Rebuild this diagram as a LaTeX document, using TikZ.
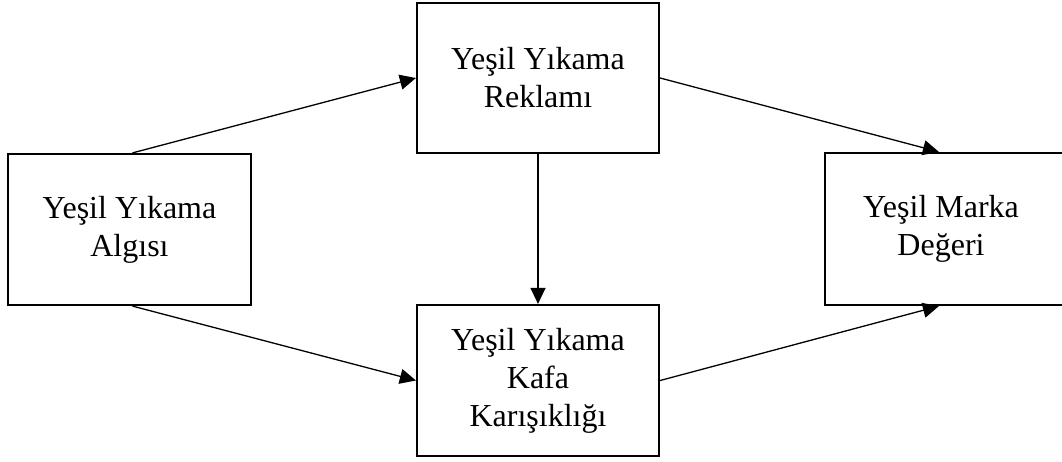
\documentclass[tikz,border=0pt]{standalone}
\usepackage{fontspec}
\setmainfont{Liberation Serif}
\usetikzlibrary{arrows.meta,calc}
\begin{document}
\begin{tikzpicture}[x=1pt,y=-1pt,
  box/.style={draw,line width=2.2pt,rectangle,inner sep=0pt,align=center,
    font=\fontsize{32}{38}\selectfont},
  conn/.style={line width=1.3pt,-{Triangle[length=16pt,width=15pt]}}]
\useasboundingbox (0,0) rectangle (1062,462);
\clip (0,0) rectangle (1062,462);
\node[box,minimum width=243pt,minimum height=151pt] (L) at (129.5,229.5) {Yeşil Yıkama\\Algısı};
\node[box,minimum width=242pt,minimum height=150pt] (T) at (538,78) {Yeşil Yıkama\\Reklamı};
\node[box,minimum width=242pt,minimum height=151pt] (B) at (538,380.5) {Yeşil Yıkama\\Kafa\\Karışıklığı};
\node[box,minimum width=260pt,minimum height=152pt] (R) at (955,229) {};
\node[font=\fontsize{32}{38}\selectfont,align=center] (Rt) at (941,229) {Yeşil Marka\\Değeri};
\coordinate (Rn) at ($(R.north west)+(115,0)$);
\coordinate (Rs) at ($(R.south west)+(115,0)$);
\draw[conn] ($(L.north)+(3,0)$) -- (T.west);
\draw[conn] ($(L.south)+(3,0)$) -- (B.west);
\draw[conn] (T.south) -- (B.north);
\draw[conn] (T.east) -- (Rn);
\draw[conn] (B.east) -- (Rs);
\end{tikzpicture}
\end{document}
